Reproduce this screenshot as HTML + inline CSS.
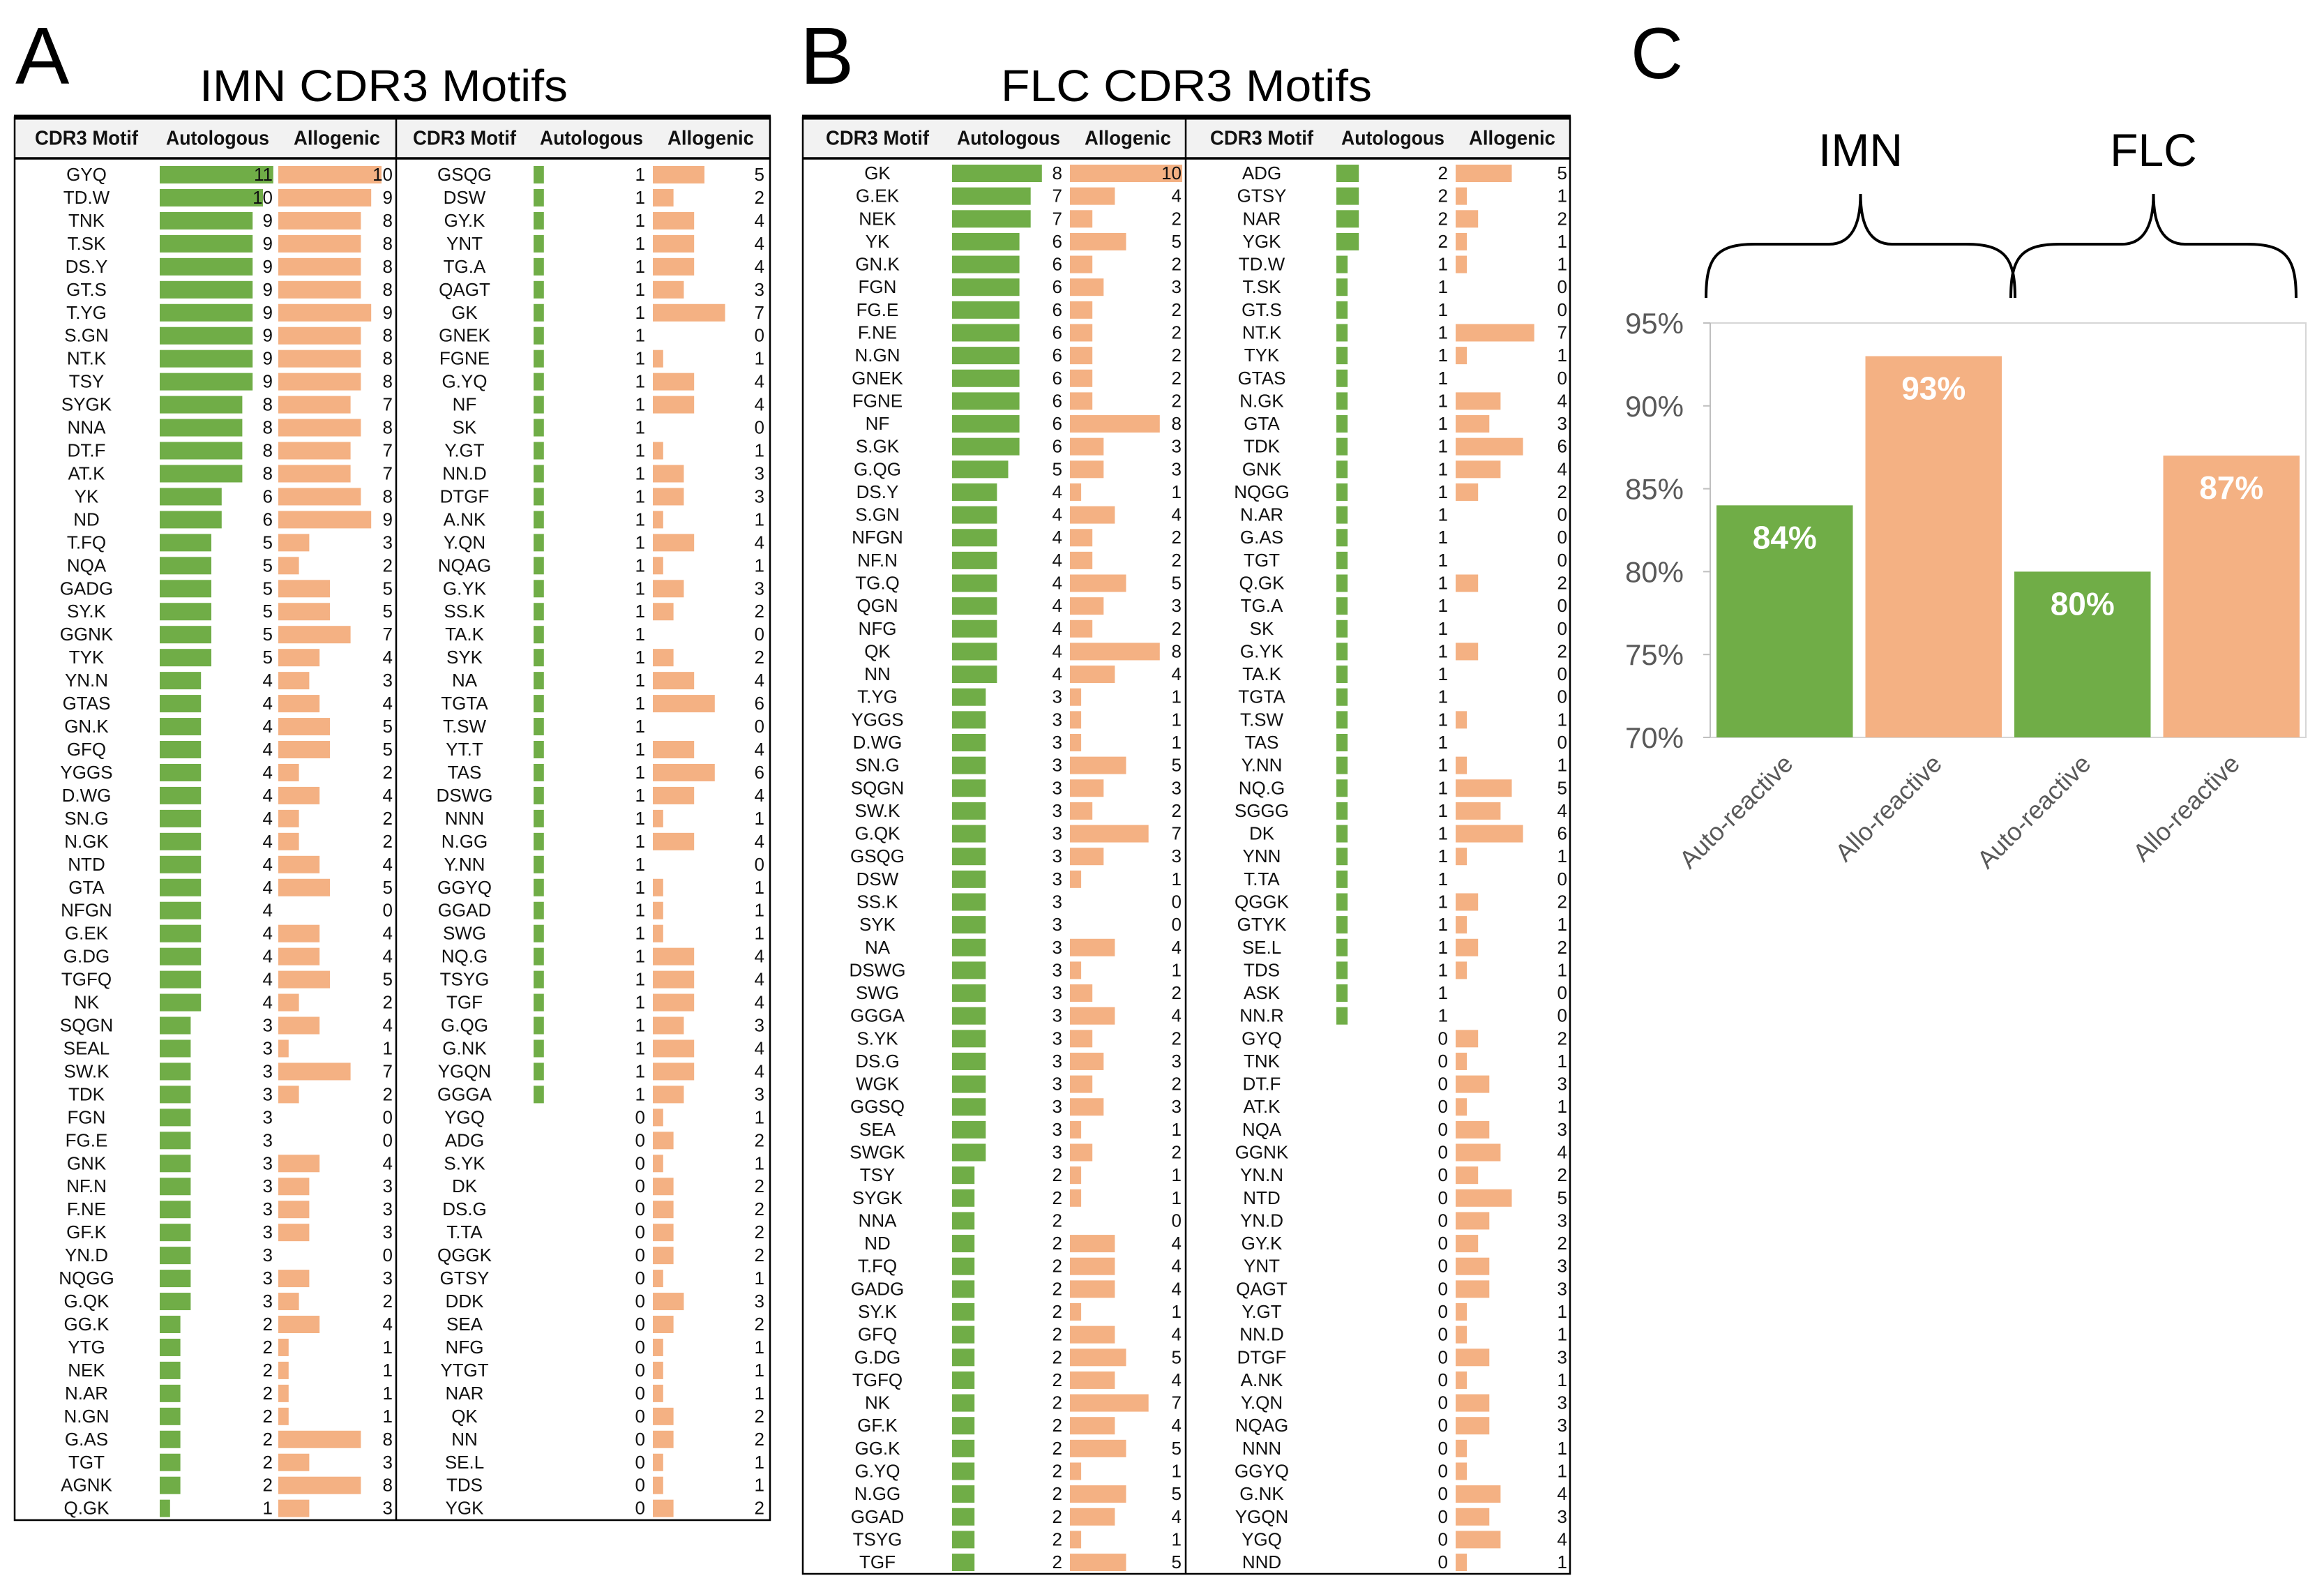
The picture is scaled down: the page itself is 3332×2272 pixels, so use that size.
<!DOCTYPE html>
<html><head><meta charset="utf-8"><style>
html,body{margin:0;padding:0;background:#fff;}
svg{display:block;font-family:"Liberation Sans",sans-serif;}
</style></head><body>
<svg id="fig" width="3332" height="2272" viewBox="0 0 3332 2272" xmlns="http://www.w3.org/2000/svg">
<rect x="0" y="0" width="3332" height="2272" fill="#fff"/>
<text x="22" y="120" font-size="116">A</text>
<text x="286" y="145" font-size="64" textLength="528" lengthAdjust="spacingAndGlyphs">IMN CDR3 Motifs</text>
<text x="1147" y="120" font-size="116">B</text>
<text x="1435" y="145" font-size="64" textLength="532" lengthAdjust="spacingAndGlyphs">FLC CDR3 Motifs</text>
<text x="2338" y="112" font-size="104">C</text>
<g id="tables"></g>
<g id="chartC"></g>
</svg>
<script>
// ---- Panel A data (IMN) ----
const aMotifsL = ["GYQ","TD.W","TNK","T.SK","DS.Y","GT.S","T.YG","S.GN","NT.K","TSY","SYGK","NNA","DT.F","AT.K","YK","ND","T.FQ","NQA","GADG","SY.K","GGNK","TYK","YN.N","GTAS","GN.K","GFQ","YGGS","D.WG","SN.G","N.GK","NTD","GTA","NFGN","G.EK","G.DG","TGFQ","NK","SQGN","SEAL","SW.K","TDK","FGN","FG.E","GNK","NF.N","F.NE","GF.K","YN.D","NQGG","G.QK","GG.K","YTG","NEK","N.AR","N.GN","G.AS","TGT","AGNK","Q.GK"];
const aAutoL = [11,10,9,9,9,9,9,9,9,9,8,8,8,8,6,6,5,5,5,5,5,5,4,4,4,4,4,4,4,4,4,4,4,4,4,4,4,3,3,3,3,3,3,3,3,3,3,3,3,3,2,2,2,2,2,2,2,2,1];
const aAlloL = [10,9,8,8,8,8,9,8,8,8,7,8,7,7,8,9,3,2,5,5,7,4,3,4,5,5,2,4,2,2,4,5,0,4,4,5,2,4,1,7,2,0,0,4,3,3,3,0,3,2,4,1,1,1,1,8,3,8,3];
const aMotifsR = ["GSQG","DSW","GY.K","YNT","TG.A","QAGT","GK","GNEK","FGNE","G.YQ","NF","SK","Y.GT","NN.D","DTGF","A.NK","Y.QN","NQAG","G.YK","SS.K","TA.K","SYK","NA","TGTA","T.SW","YT.T","TAS","DSWG","NNN","N.GG","Y.NN","GGYQ","GGAD","SWG","NQ.G","TSYG","TGF","G.QG","G.NK","YGQN","GGGA","YGQ","ADG","S.YK","DK","DS.G","T.TA","QGGK","GTSY","DDK","SEA","NFG","YTGT","NAR","QK","NN","SE.L","TDS","YGK"];
const aAutoR = [1,1,1,1,1,1,1,1,1,1,1,1,1,1,1,1,1,1,1,1,1,1,1,1,1,1,1,1,1,1,1,1,1,1,1,1,1,1,1,1,1,0,0,0,0,0,0,0,0,0,0,0,0,0,0,0,0,0,0];
const aAlloR = [5,2,4,4,4,3,7,0,1,4,4,0,1,3,3,1,4,1,3,2,0,2,4,6,0,4,6,4,1,4,0,1,1,1,4,4,4,3,4,4,3,1,2,1,2,2,2,2,1,3,2,1,1,1,2,2,1,1,2];
// ---- Panel B data (FLC) ----
const bMotifsL = ["GK","G.EK","NEK","YK","GN.K","FGN","FG.E","F.NE","N.GN","GNEK","FGNE","NF","S.GK","G.QG","DS.Y","S.GN","NFGN","NF.N","TG.Q","QGN","NFG","QK","NN","T.YG","YGGS","D.WG","SN.G","SQGN","SW.K","G.QK","GSQG","DSW","SS.K","SYK","NA","DSWG","SWG","GGGA","S.YK","DS.G","WGK","GGSQ","SEA","SWGK","TSY","SYGK","NNA","ND","T.FQ","GADG","SY.K","GFQ","G.DG","TGFQ","NK","GF.K","GG.K","G.YQ","N.GG","GGAD","TSYG","TGF"];
const bAutoL = [8,7,7,6,6,6,6,6,6,6,6,6,6,5,4,4,4,4,4,4,4,4,4,3,3,3,3,3,3,3,3,3,3,3,3,3,3,3,3,3,3,3,3,3,2,2,2,2,2,2,2,2,2,2,2,2,2,2,2,2,2,2];
const bAlloL = [10,4,2,5,2,3,2,2,2,2,2,8,3,3,1,4,2,2,5,3,2,8,4,1,1,1,5,3,2,7,3,1,0,0,4,1,2,4,2,3,2,3,1,2,1,1,0,4,4,4,1,4,5,4,7,4,5,1,5,4,1,5];
const bMotifsR = ["ADG","GTSY","NAR","YGK","TD.W","T.SK","GT.S","NT.K","TYK","GTAS","N.GK","GTA","TDK","GNK","NQGG","N.AR","G.AS","TGT","Q.GK","TG.A","SK","G.YK","TA.K","TGTA","T.SW","TAS","Y.NN","NQ.G","SGGG","DK","YNN","T.TA","QGGK","GTYK","SE.L","TDS","ASK","NN.R","GYQ","TNK","DT.F","AT.K","NQA","GGNK","YN.N","NTD","YN.D","GY.K","YNT","QAGT","Y.GT","NN.D","DTGF","A.NK","Y.QN","NQAG","NNN","GGYQ","G.NK","YGQN","YGQ","NND"];
const bAutoR = [2,2,2,2,1,1,1,1,1,1,1,1,1,1,1,1,1,1,1,1,1,1,1,1,1,1,1,1,1,1,1,1,1,1,1,1,1,1,0,0,0,0,0,0,0,0,0,0,0,0,0,0,0,0,0,0,0,0,0,0,0,0];
const bAlloR = [5,1,2,1,1,0,0,7,1,0,4,3,6,4,2,0,0,0,2,0,0,2,0,0,1,0,1,5,4,6,1,0,2,1,2,1,0,0,2,1,3,1,3,4,2,5,3,2,3,3,1,1,3,1,3,3,1,1,4,3,4,1];
// ---- Panel C data ----
const cCats = ["Auto-reactive","Allo-reactive","Auto-reactive","Allo-reactive"];
const cValues = [84,93,80,87];
const cLabels = ["84%","93%","80%","87%"];
const cTicks = [70,75,80,85,90,95];
const cTickLabels = ["70%","75%","80%","85%","90%","95%"];
const cGroups = ["IMN","FLC"];

const NS = "http://www.w3.org/2000/svg";
const GREEN = "#70ad47", ORANGE = "#f4b183";
function mk(tag, attrs, parent) {
  const el = document.createElementNS(NS, tag);
  for (const k in attrs) el.setAttribute(k, attrs[k]);
  parent.appendChild(el);
  return el;
}
const tablesG = document.getElementById('tables');

function drawTable(key, box, cols, motifsL, autoL, alloL, motifsR, autoR, alloR) {
  const g = mk('g', {}, tablesG);
  
  
  const hdr = mk('rect', {x: box.l, y: box.t, width: box.r - box.l, height: box.h - box.t, fill: '#f2f2f2'}, g);
  
  
  const frame = mk('rect', {x: box.l, y: box.t, width: box.r - box.l, height: box.b - box.t, fill: 'none', stroke: '#000', 'stroke-width': 2.5}, g);
  
  
  const top = mk('line', {x1: box.l - 1, x2: box.r + 1, y1: box.t, y2: box.t, stroke: '#000', 'stroke-width': 7}, g);
  
  
  const hb = mk('line', {x1: box.l, x2: box.r, y1: box.h, y2: box.h, stroke: '#000', 'stroke-width': 3.5}, g);
  
  
  const dv = mk('line', {x1: box.d, x2: box.d, y1: box.t, y2: box.b, stroke: '#000', 'stroke-width': 2.5}, g);
  
  
  const heads = ["CDR3 Motif","Autologous","Allogenic"];
  [cols.L, cols.R].forEach((c, side) => {
    const hx = [c.motif, c.autoHead, c.alloHead];
    heads.forEach((h, j) => {
      const t = mk('text', {x: hx[j], y: (box.t + box.h) / 2 + 10, 'font-size': 29, 'font-weight': 'bold', 'text-anchor': 'middle', fill: '#111', textLength: j === 2 ? 124 : 148, lengthAdjust: 'spacingAndGlyphs'}, g);
      t.textContent = h;
      
      
    });
  });
  const sides = [[cols.L, motifsL, autoL, alloL], [cols.R, motifsR, autoR, alloR]];
  sides.forEach(([c, motifs, auto, allo]) => {
    motifs.forEach((m, i) => {
      const y = box.y0 + i * box.pitch;
      const wa = auto[i] * box.unit;
      if (wa > 0) {
        const ra = mk('rect', {x: c.autoX, y: y - 12, width: wa, height: 25, fill: GREEN}, g);
        
        
      }
      const wl = allo[i] * box.unit;
      if (wl > 0) {
        const rl = mk('rect', {x: c.alloX, y: y - 12, width: wl, height: 25, fill: ORANGE}, g);
        
        
      }
      const tm = mk('text', {x: c.motif, y: y + 9, 'font-size': 26, 'text-anchor': 'middle', fill: '#111'}, g);
      tm.textContent = m;
      
      
      const ta = mk('text', {x: c.autoNum, y: y + 9, 'font-size': 26, 'text-anchor': 'end', fill: '#111'}, g);
      ta.textContent = auto[i];
      
      
      const tl = mk('text', {x: c.alloNum, y: y + 9, 'font-size': 26, 'text-anchor': 'end', fill: '#111'}, g);
      tl.textContent = allo[i];
      
      
    });
  });
}

drawTable('imn', {l: 21, r: 1104, t: 168, h: 227, b: 2179, d: 568, y0: 250, pitch: 32.96, unit: 14.8},
  {L: {motif: 124, autoHead: 312, alloHead: 483, autoX: 229, autoNum: 391, alloX: 399, alloNum: 563},
   R: {motif: 666, autoHead: 848, alloHead: 1019, autoX: 765, autoNum: 925, alloX: 936, alloNum: 1096}},
  aMotifsL, aAutoL, aAlloL, aMotifsR, aAutoR, aAlloR);
drawTable('flc', {l: 1151, r: 2251, t: 168, h: 227, b: 2256, d: 1700, y0: 248, pitch: 32.64, unit: 16.1},
  {L: {motif: 1258, autoHead: 1446, alloHead: 1617, autoX: 1365, autoNum: 1523, alloX: 1534, alloNum: 1694},
   R: {motif: 1809, autoHead: 1997, alloHead: 2168, autoX: 1916, autoNum: 2076, alloX: 2087, alloNum: 2247}},
  bMotifsL, bAutoL, bAlloL, bMotifsR, bAutoR, bAlloR);

// ---- Panel C chart ----
const cg = document.getElementById('chartC');
const PL = 2452, PR = 3306, PT = 463, PB = 1057, YMIN = 70, YMAX = 95;
function yS(v) { return PB - (v - YMIN) / (YMAX - YMIN) * (PB - PT); }
const bandW = (PR - PL) / cCats.length;
function xS(i) { return PL + i * bandW; }
const frameC = mk('rect', {x: PL, y: PT, width: PR - PL, height: PB - PT, fill: 'none', stroke: '#d6d6d6', 'stroke-width': 2}, cg);


const yAxis = mk('line', {x1: PL, x2: PL, y1: PT, y2: PB, stroke: '#bfbfbf', 'stroke-width': 2}, cg);


cTicks.forEach((v, i) => {
  const tk = mk('line', {x1: PL - 10, x2: PL, y1: yS(v), y2: yS(v), stroke: '#bfbfbf', 'stroke-width': 2}, cg);
  
  
  const t = mk('text', {x: PL - 38, y: yS(v) + 15, 'font-size': 42, 'text-anchor': 'end', fill: '#595959'}, cg);
  t.textContent = cTickLabels[i];
  
  
});
cValues.forEach((v, i) => {
  const bx = xS(i) + 9, bw = bandW - 18;
  const r = mk('rect', {x: bx, y: yS(v), width: bw, height: PB - yS(v), fill: i % 2 === 0 ? GREEN : ORANGE}, cg);
  
  
  const vl = mk('text', {x: bx + bw / 2, y: yS(v) + 62, 'font-size': 46, 'font-weight': 'bold', 'text-anchor': 'middle', fill: '#fff'}, cg);
  vl.textContent = cLabels[i];
  
  
  const cx = bx + bw / 2 + 14, cy = PB + 40;
  const xl = mk('text', {x: cx, y: cy, 'font-size': 36, 'text-anchor': 'end', fill: '#595959', transform: 'rotate(-45 ' + cx + ' ' + cy + ')'}, cg);
  xl.textContent = cCats[i];
  
  
});
cGroups.forEach((gname, k) => {
  const x0 = xS(2 * k) - 6 + k * 10, x1 = xS(2 * k + 2) + (k === 0 ? 10 : -14);
  const mx = (x0 + x1) / 2, yEnd = 427, yMid = 350, yTip = 278;
  const d = 'M' + x0 + ',' + yEnd + ' C' + x0 + ',' + (yMid + 20) + ' ' + (x0 + 14) + ',' + yMid + ' ' + (x0 + 70) + ',' + yMid +
    ' L' + (mx - 45) + ',' + yMid + ' C' + (mx - 12) + ',' + yMid + ' ' + mx + ',' + (yMid - 30) + ' ' + mx + ',' + yTip +
    ' C' + mx + ',' + (yMid - 30) + ' ' + (mx + 12) + ',' + yMid + ' ' + (mx + 45) + ',' + yMid +
    ' L' + (x1 - 70) + ',' + yMid + ' C' + (x1 - 14) + ',' + yMid + ' ' + x1 + ',' + (yMid + 20) + ' ' + x1 + ',' + yEnd;
  const br = mk('path', {d: d, fill: 'none', stroke: '#000', 'stroke-width': 4}, cg);
  
  
  const gt = mk('text', {x: mx, y: 238, 'font-size': 66, 'text-anchor': 'middle', fill: '#000'}, cg);
  gt.textContent = gname;
  
  
});
</script>
</body></html>
